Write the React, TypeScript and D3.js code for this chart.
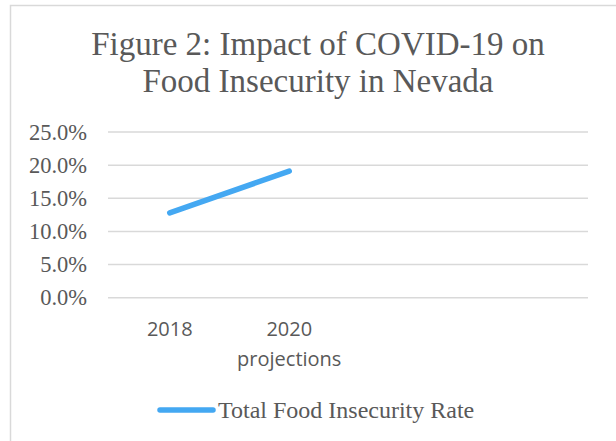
import React from "react";
import * as d3 from "d3";

const categories = ["2018", "2020\nprojections", "", " "];
const seriesName = "Total Food Insecurity Rate";
const values: (number | null)[] = [0.128, 0.191, null, null];
const yTicks = [0, 0.05, 0.1, 0.15, 0.2, 0.25];
const titleLines = ["Figure 2: Impact of COVID-19 on", "Food Insecurity in Nevada"];

const W = 616;
const H = 441;
const plot = { left: 108, right: 588, top: 132, bottom: 297.7 };
const textColor = "#595959";
const lineColor = "#44A8F2";

export default function App() {
  const x = d3.scaleBand<string>().domain(categories).range([plot.left + 2, plot.right]);
  const y = d3.scaleLinear().domain([0, 0.25]).range([plot.bottom, plot.top]);
  const fmt = d3.format(".1%");
  const pts = categories
    .map((c, i) => ({ c, v: values[i] }))
    .filter((d) => d.v !== null) as { c: string; v: number }[];
  const line = d3
    .line<{ c: string; v: number }>()
    .x((d) => (x(d.c) as number) + x.bandwidth() / 2)
    .y((d) => y(d.v));

  return (
    <svg
      width={W}
      height={H}
      style={{ position: "absolute", left: 0, top: 0, background: "#fff" }}
    >
      <rect x={10.5} y={5.5} width={W + 20} height={H + 20} fill="#fff" stroke="#d9d9d9" strokeWidth={1.5} />
      {titleLines.map((t, i) => (
        <text
          key={i}
          x={318}
          y={54.5 + i * 37}
          textAnchor="middle"
          fontFamily="Liberation Serif"
          fontSize={33}
          fill={textColor}
        >
          {t}
        </text>
      ))}
      {yTicks.map((t) => (
        <g key={t}>
          <line x1={plot.left} x2={plot.right} y1={y(t)} y2={y(t)} stroke="#d9d9d9" strokeWidth={1.5} />
          <text
            x={87}
            y={y(t) + 7.5}
            textAnchor="end"
            fontFamily="Liberation Serif"
            fontSize={22.5}
            fill={textColor}
          >
            {fmt(t)}
          </text>
        </g>
      ))}
      {categories.map((c) => (
        <text
          key={c}
          x={(x(c) as number) + x.bandwidth() / 2}
          textAnchor="middle"
          fontFamily="Open Sans"
          fontSize={20}
          fill={textColor}
        >
          {c.split("\n").map((s, j) => (
            <tspan key={j} x={(x(c) as number) + x.bandwidth() / 2} y={335.5 + j * 30}>
              {s}
            </tspan>
          ))}
        </text>
      ))}
      <path
        d={line(pts) || ""}
        fill="none"
        stroke={lineColor}
        strokeWidth={5.5}
        strokeLinecap="round"
        strokeLinejoin="round"
      />
      <line x1={160} x2={213} y1={410} y2={410} stroke={lineColor} strokeWidth={5.5} strokeLinecap="round" />
      <text x={218} y={417.5} fontFamily="Liberation Serif" fontSize={24} fill={textColor}>
        {seriesName}
      </text>
    </svg>
  );
}
